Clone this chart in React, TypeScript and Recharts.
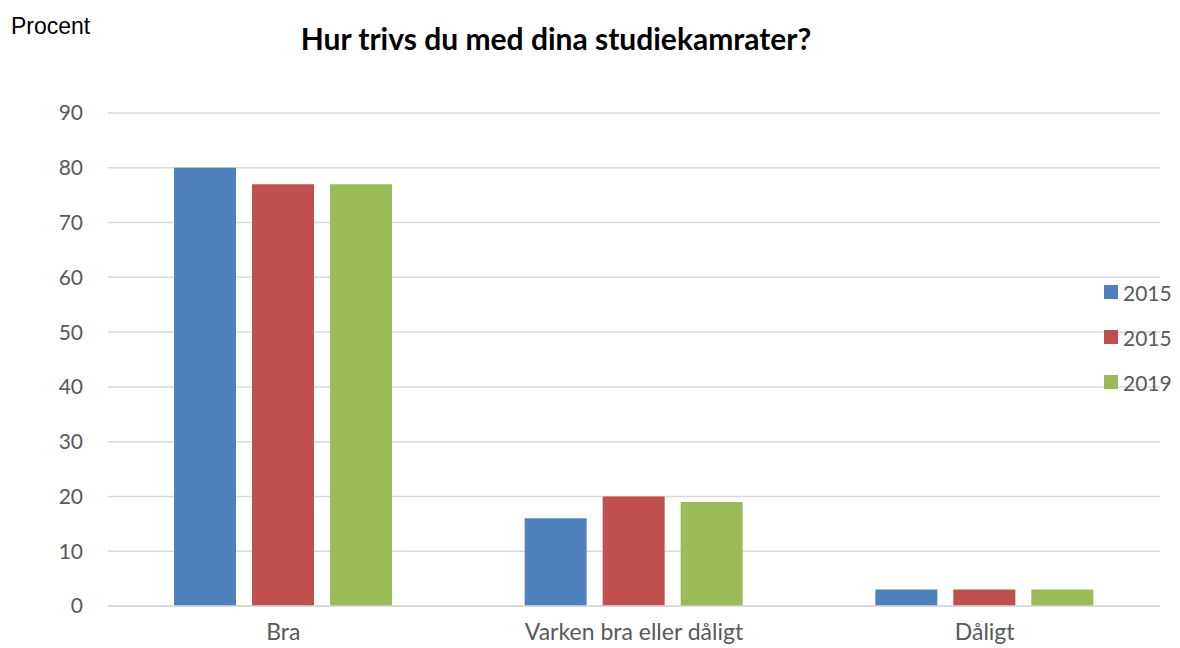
import React from "react";
import { BarChart, Bar, XAxis, YAxis, CartesianGrid } from "recharts";

const categories = ["Bra", "Varken bra eller dåligt", "Dåligt"];
const serie2015a = [80, 16, 3];
const serie2015b = [77, 20, 3];
const serie2019 = [77, 19, 3];
const yTicks = [0, 10, 20, 30, 40, 50, 60, 70, 80, 90];

const series = [
  { key: "a", name: "2015", color: "#4F81BD" },
  { key: "b", name: "2015", color: "#C0504D" },
  { key: "c", name: "2019", color: "#9BBB59" },
];

const data = categories.map((cat, i) => ({
  cat,
  a: serie2015a[i],
  b: serie2015b[i],
  c: serie2019[i],
}));

const FONT = "Lato, 'Open Sans', sans-serif";
const X_TICK = { fill: "#595959", fontSize: 23, fontFamily: FONT };
const Y_TICK = { fill: "#595959", fontSize: 21, fontFamily: FONT };

export default function App() {
  return (
    <div style={{ position: "absolute", left: 0, top: 0, width: 1180, height: 648, background: "#fff" }}>
      <div
        style={{
          position: "absolute",
          left: 11,
          top: 13,
          fontFamily: "'Liberation Sans', Arial, sans-serif",
          fontSize: 23,
          color: "#000",
        }}
      >
        Procent
      </div>
      <div
        style={{
          position: "absolute",
          left: 0,
          width: 1112,
          top: 20,
          textAlign: "center",
          fontFamily: FONT,
          fontWeight: 700,
          fontSize: 30,
          color: "#000",
        }}
      >
        Hur trivs du med dina studiekamrater?
      </div>

      <BarChart
        width={1180}
        height={648}
        data={data}
        margin={{ top: 113, right: 20, left: 0, bottom: 0 }}
        barSize={62}
        barGap={16}
      >
        <CartesianGrid vertical={false} stroke="#d9d9d9" strokeWidth={1.5} />
        <XAxis
          dataKey="cat"
          height={42}
          tickSize={0}
          tickMargin={18}
          axisLine={{ stroke: "#d9d9d9", strokeWidth: 1.5 }}
          tickLine={false}
          tick={X_TICK}
        />
        <YAxis
          width={108}
          domain={[0, 90]}
          ticks={yTicks}
          interval={0}
          tickSize={0}
          tickMargin={25}
          axisLine={false}
          tickLine={false}
          tick={Y_TICK}
        />
        {series.map((s) => (
          <Bar key={s.key} dataKey={s.key} name={s.name} fill={s.color} isAnimationActive={false} />
        ))}
      </BarChart>

      <div style={{ position: "absolute", left: 1104, top: 280 }}>
        {series.map((s, i) => (
          <div
            key={s.key}
            style={{
              position: "absolute",
              top: i * 45,
              display: "flex",
              alignItems: "center",
              height: 24,
              fontFamily: FONT,
              fontSize: 21,
              color: "#595959",
              whiteSpace: "nowrap",
            }}
          >
            <span style={{ display: "inline-block", width: 14, height: 14, background: s.color, marginRight: 5 }} />
            {s.name}
          </div>
        ))}
      </div>
    </div>
  );
}
